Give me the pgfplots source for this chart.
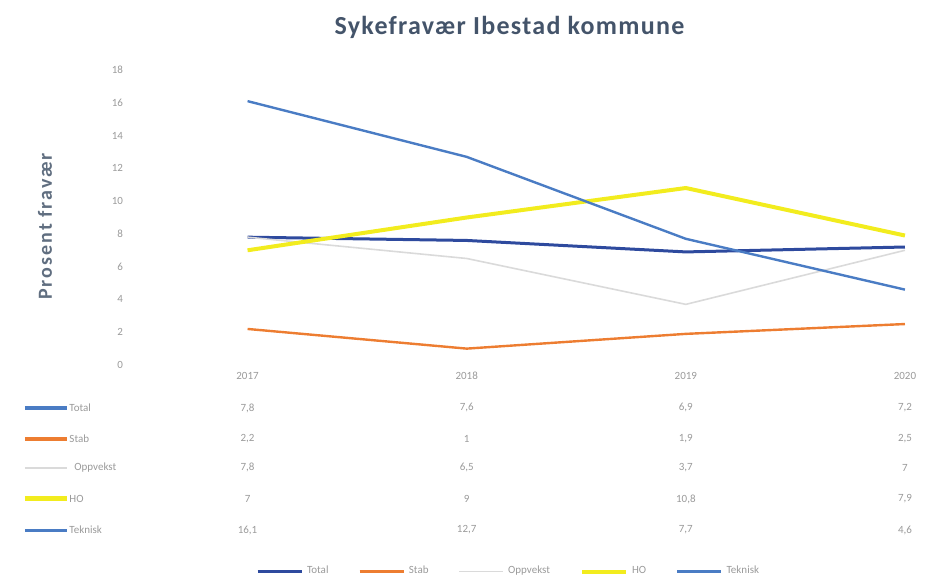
\documentclass[border=0pt]{standalone}
\usepackage{fontspec}
\setmainfont{Carlito}
\usepackage{pgfplots}
\usepackage{pgfplotstable}
\pgfplotsset{compat=1.18}
\definecolor{cTotal}{HTML}{2E4A9E}
\definecolor{cStab}{HTML}{ED7D31}
\definecolor{cOpp}{HTML}{DADADA}
\definecolor{cHO}{HTML}{F2EC1E}
\definecolor{cTek}{HTML}{4A7CC4}
\definecolor{cTitle}{HTML}{44546A}
\definecolor{cTxt}{HTML}{9A9A9A}
\pgfplotstableread{
x Total Stab Oppvekst HO Teknisk
0 7.8 2.2 7.8 7.0 16.1
1 7.6 1.0 6.5 9.0 12.7
2 6.9 1.9 3.7 10.8 7.7
3 7.2 2.5 7.0 7.9 4.6
}\sykedata
\newcommand{\tf}{\fontsize{5.5}{6}\selectfont}
\newcommand{\trow}[5]{%
  \node[font=\tf, text=cTxt] at (axis cs:0,#1) {#2};
  \node[font=\tf, text=cTxt] at (axis cs:1,#1) {#3};
  \node[font=\tf, text=cTxt] at (axis cs:2,#1) {#4};
  \node[font=\tf, text=cTxt] at (axis cs:3,#1) {#5};
}
\begin{document}
\begin{tikzpicture}
\useasboundingbox (-69pt,-107.5pt) rectangle (394pt,182.5pt);
\begin{axis}[
  at={(0,0)}, anchor=south west, scale only axis,
  width=394pt, height=147.5pt,
  xmin=-0.5, xmax=3.096, ymin=0, ymax=18,
  ytick={0,2,...,18},
  xtick={0,1,2,3}, xticklabels={2017,2018,2019,2020},
  axis line style={draw=none}, tick style={draw=none},
  clip=false,
  /pgf/number format/assume math mode=true,
  ticklabel style={font=\tf, text=cTxt},
  yticklabel style={xshift=-4pt},
  title={Sykefravær Ibestad kommune},
  title style={at={(axis description cs:0.4715,1.105)}, anchor=center,
    font=\bfseries\fontsize{13}{15}\selectfont\addfontfeature{LetterSpace=5}, text=cTitle},
  ylabel={Prosent fravær},
  ylabel style={at={(axis description cs:-0.118,0.47)}, anchor=center,
    font=\bfseries\fontsize{10}{12}\selectfont\addfontfeature{LetterSpace=10}, text=cTitle!85},
  legend style={at={(axis description cs:0.4715,-0.70)}, anchor=center,
    legend columns=5, draw=none, fill=none, font=\tf, text=cTxt,
    /tikz/every even column/.append style={column sep=13pt}},
  legend image code/.code={\draw[#1] (0pt,0pt) -- (22pt,0pt);},
]
\addplot[cTotal, line width=1.5pt] table[x=x,y=Total]{\sykedata};
\addlegendentry{Total}
\addplot[cStab, line width=1.2pt] table[x=x,y=Stab]{\sykedata};
\addlegendentry{Stab}
\addplot[cOpp, line width=0.8pt] table[x=x,y=Oppvekst]{\sykedata};
\addlegendentry{Oppvekst}
\addplot[cHO, line width=2pt] table[x=x,y=HO]{\sykedata};
\addlegendentry{HO}
\addplot[cTek, line width=1.2pt] table[x=x,y=Teknisk]{\sykedata};
\addlegendentry{Teknisk}
% data table
\node[anchor=west, font=\tf, text=cTxt] at (axis cs:-1.048,-2.62) {\textcolor{cTek}{\rule[0.4ex]{21pt}{2pt}}\ Total};
\node[anchor=west, font=\tf, text=cTxt] at (axis cs:-1.048,-4.51) {\textcolor{cStab}{\rule[0.4ex]{21pt}{2pt}}\ Stab};
\node[anchor=west, font=\tf, text=cTxt] at (axis cs:-1.048,-6.28) {\textcolor{cOpp}{\rule[0.4ex]{21pt}{1pt}}\ \ \ Oppvekst};
\node[anchor=west, font=\tf, text=cTxt] at (axis cs:-1.048,-8.18) {\textcolor{cHO}{\rule[0.4ex]{21pt}{2.5pt}}\ HO};
\node[anchor=west, font=\tf, text=cTxt] at (axis cs:-1.048,-10.07) {\textcolor{cTek}{\rule[0.4ex]{21pt}{1.5pt}}\ Teknisk};
\trow{-2.62}{7,8}{7,6}{6,9}{7,2}
\trow{-4.51}{2,2}{1}{1,9}{2,5}
\trow{-6.28}{7,8}{6,5}{3,7}{7}
\trow{-8.18}{7}{9}{10,8}{7,9}
\trow{-10.07}{16,1}{12,7}{7,7}{4,6}
\end{axis}
\end{tikzpicture}
\end{document}
